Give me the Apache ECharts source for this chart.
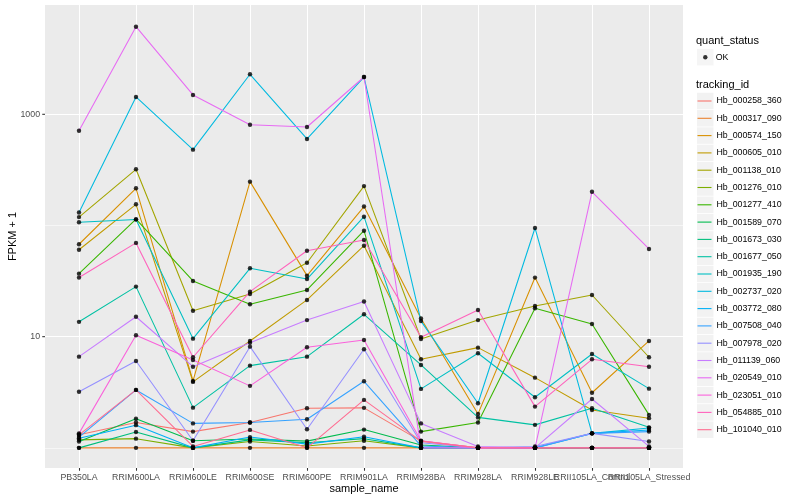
<!DOCTYPE html>
<html><head><meta charset="utf-8">
<script src="https://cdn.jsdelivr.net/npm/echarts@6/dist/echarts.min.js"></script>
<style>html,body{margin:0;padding:0;background:#fff}#c{width:800px;height:500px}</style>
</head><body><div id="c"></div>
<script>
const samples = ['PB350LA','RRIM600LA','RRIM600LE','RRIM600SE','RRIM600PE','RRIM901LA','RRIM928BA','RRIM928LA','RRIM928LE','RRII105LA_Control','RRII105LA_Stressed'];
const trackingIds = ['Hb_000258_360','Hb_000317_090','Hb_000574_150','Hb_000605_010','Hb_001138_010','Hb_001276_010','Hb_001277_410','Hb_001589_070','Hb_001673_030','Hb_001677_050','Hb_001935_190','Hb_002737_020','Hb_003772_080','Hb_007508_040','Hb_007978_020','Hb_011139_060','Hb_020549_010','Hb_023051_010','Hb_054885_010','Hb_101040_010'];
const lineColors = ['#F8766D','#EA8331','#D89000','#C09B00','#A3A500','#7CAE00','#39B600','#00BB4E','#00BF7D','#00C1A3','#00BFC4','#00BAE0','#00B0F6','#35A2FF','#9590FF','#C77CFF','#E76BF3','#FA62DB','#FF62BC','#FF6C91'];

// FPKM + 1 per sample
const Hb_000258_360 = [1.31, 1.69, 1.40, 1.69, 2.27, 2.29, 1.15, 1, 1, 1, 1];
const Hb_000317_090 = [1, 1, 1, 1, 1, 1, 1, 1, 1, 1, 1];
const Hb_000574_150 = [67.8, 216, 4.00, 248, 35.4, 148, 14.6, 2.02, 34.0, 3.13, 9.15];
const Hb_000605_010 = [60.5, 155, 3.92, 9.15, 21.4, 65.8, 6.26, 7.97, 4.28, 2.19, 1.85];
const Hb_001138_010 = [119, 320, 17.1, 24.2, 46.2, 226, 9.53, 14.1, 18.9, 23.7, 6.53];
const Hb_001276_010 = [1.18, 1.21, 1, 1.14, 1.04, 1.16, 1, 1, 1, 1, 1];
const Hb_001277_410 = [36.9, 114, 31.7, 19.6, 26.3, 89.8, 1.40, 1.69, 18.0, 13.0, 1.98];
const Hb_001589_070 = [1.14, 1.83, 1.16, 1.20, 1.15, 1.46, 1.06, 1, 1, 1, 1];
const Hb_001673_030 = [1, 1.39, 1, 1.18, 1.11, 1.21, 1, 1, 1, 1, 1];
const Hb_001677_050 = [13.6, 28.2, 2.30, 5.49, 6.61, 15.9, 5.57, 1.88, 1.61, 2.27, 1.53];
const Hb_001935_190 = [107, 113, 9.6, 41.2, 33.0, 120, 3.39, 7.10, 2.85, 6.99, 3.41];
const Hb_002737_020 = [131, 1432, 481, 2290, 600, 2164, 13.8, 2.52, 95, 1.35, 1.51];
const Hb_003772_080 = [1.22, 1.60, 1, 1.25, 1.08, 1.26, 1, 1, 1, 1.35, 1.45];
const Hb_007508_040 = [1.25, 3.32, 1.66, 1.69, 1.81, 3.97, 1.04, 1, 1, 1.35, 1.40];
const Hb_007978_020 = [3.20, 6.04, 1.16, 8.13, 1.47, 7.71, 1.11, 1, 1.03, 1.35, 1.14];
const Hb_011139_060 = [6.61, 15.1, 5.37, 8.8, 14.1, 20.7, 1.66, 1.03, 1, 2.75, 1.03];
const Hb_020549_010 = [712, 6138, 1493, 806, 769, 2164, 1, 1, 1, 201, 61.5];
const Hb_023051_010 = [1.35, 10.3, 6.17, 3.61, 8.03, 9.34, 1.16, 1, 1, 1, 1];
const Hb_054885_010 = [34.0, 69.7, 6.53, 25.4, 59.3, 74.1, 9.88, 17.4, 2.35, 6.26, 5.37];
const Hb_101040_010 = [1.31, 3.32, 1.03, 1.45, 1, 2.70, 1.15, 1, 1, 1, 1];

const majorBreaks = [10, 1000];
const minorBreaks = [1, 100];
const yMin = 0.659, yMax = 9616;

const seriesValues = [Hb_000258_360, Hb_000317_090, Hb_000574_150, Hb_000605_010, Hb_001138_010, Hb_001276_010, Hb_001277_410, Hb_001589_070, Hb_001673_030, Hb_001677_050, Hb_001935_190, Hb_002737_020, Hb_003772_080, Hb_007508_040, Hb_007978_020, Hb_011139_060, Hb_020549_010, Hb_023051_010, Hb_054885_010, Hb_101040_010];

const FONT = '"Liberation Sans", Arial, Helvetica, sans-serif';
const chart = echarts.init(document.getElementById('c'));

const series = [];
series.push({
  type: 'line', name: '__grid', xAxisIndex: 0, yAxisIndex: 0, data: [], silent: true,
  markLine: {
    silent: true, symbol: ['none', 'none'], label: { show: false }, z: 1, animation: false,
    emphasis: { disabled: true },
    data: minorBreaks.map(v => ({ yAxis: v, lineStyle: { color: '#fff', width: 0.55, type: 'solid' } }))
      .concat(majorBreaks.map(v => ({ yAxis: v, lineStyle: { color: '#fff', width: 1.1, type: 'solid' } })))
  }
});
trackingIds.forEach((id, i) => {
  series.push({
    type: 'line', name: id, xAxisIndex: 1, yAxisIndex: 1, data: seriesValues[i],
    color: lineColors[i], symbol: 'none', showSymbol: false,
    lineStyle: { width: 1.07, color: lineColors[i] }, z: 3, silent: true,
    emphasis: { disabled: true }
  });
});
const points = [];
seriesValues.forEach(vals => vals.forEach((v, j) => points.push([j, v])));
series.push({
  type: 'scatter', name: 'OK', xAxisIndex: 1, yAxisIndex: 1, data: points,
  symbol: 'circle', symbolSize: 4.4, color: '#000', itemStyle: { color: '#000' }, z: 4, silent: true,
  emphasis: { disabled: true }
});

const legendText = { fontSize: 8.8, lineHeight: 16.5, fontFamily: FONT };
chart.setOption({
  animation: false,
  grid: [
    { left: 45, top: 5, width: 638, height: 463, show: true, backgroundColor: '#EBEBEB', borderWidth: 0, containLabel: false, outerBoundsMode: 'none' },
    { left: 79, top: 5, width: 570, height: 463, show: false, containLabel: false, outerBoundsMode: 'none' }
  ],
  xAxis: [
    { gridIndex: 0, type: 'value', min: 0, max: 1, show: false },
    {
      gridIndex: 1, type: 'category', data: samples, boundaryGap: false,
      axisLine: { show: false },
      axisTick: { show: true, length: 2.75, lineStyle: { color: '#333', width: 1.07 } },
      axisLabel: { interval: 0, color: '#4D4D4D', fontSize: 8.8, fontFamily: FONT, margin: 5, hideOverlap: false },
      splitLine: { show: true, lineStyle: { color: '#fff', width: 1.07 } },
      name: 'sample_name', nameLocation: 'middle', nameGap: 15, nameMoveOverlap: false,
      nameTextStyle: { color: '#000', fontSize: 11, fontFamily: FONT }
    }
  ],
  yAxis: [
    {
      gridIndex: 0, type: 'log', logBase: 10, min: yMin, max: yMax,
      axisLine: { show: false }, axisTick: { show: false }, splitLine: { show: false },
      axisLabel: {
        margin: 0, color: '#4D4D4D', fontSize: 8.8, fontFamily: FONT,
        formatter: v => {
          const m = majorBreaks.find(b => Math.abs(b - v) / b < 1e-6);
          return m ? m + '{s|}{t|}' : '';
        },
        rich: { s: { width: 2.2 }, t: { width: 2.75, height: 1.07, backgroundColor: '#333' } }
      },
      name: 'FPKM + 1', nameLocation: 'middle', nameGap: 27, nameRotate: 90, nameMoveOverlap: false,
      nameTextStyle: { color: '#000', fontSize: 11, fontFamily: FONT }
    },
    { gridIndex: 1, type: 'log', logBase: 10, min: yMin, max: yMax, show: false }
  ],
  legend: [
    { id: 'keyBg', data: trackingIds, orient: 'vertical', left: 697, top: 92.75, padding: 0, itemGap: 0.8,
      itemWidth: 16.5, itemHeight: 16.5, icon: 'rect', itemStyle: { color: '#F2F2F2', borderWidth: 0 },
      selectedMode: false, z: 3, textStyle: Object.assign({ color: 'rgba(0,0,0,0)' }, legendText) },
    { id: 'keyLine', data: trackingIds, orient: 'vertical', left: 697.5, top: 92.75, padding: 0, itemGap: 0.8,
      itemWidth: 14, itemHeight: 1.1, icon: 'rect', itemStyle: { borderWidth: 0 },
      selectedMode: false, z: 5, textStyle: Object.assign({ color: '#000' }, legendText) },
    { id: 'okBg', data: ['OK'], orient: 'vertical', left: 697, top: 48.95, padding: 0,
      itemWidth: 16.5, itemHeight: 16.5, icon: 'rect', itemStyle: { color: '#F2F2F2', borderWidth: 0 },
      selectedMode: false, z: 3, textStyle: Object.assign({ color: 'rgba(0,0,0,0)' }, legendText) },
    { id: 'okDot', data: ['OK'], orient: 'vertical', left: 703.1, top: 48.95, padding: 0,
      itemWidth: 4.4, itemHeight: 4.4, icon: 'circle', itemStyle: { borderWidth: 0 },
      selectedMode: false, z: 5, textStyle: Object.assign({ color: '#000', padding: [0, 0, 0, 3.2] }, legendText) }
  ],
  graphic: [
    { type: 'text', x: 696, y: 40.7, style: { text: 'quant_status', fontSize: 11, fontFamily: FONT, fill: '#000', verticalAlign: 'middle' } },
    { type: 'text', x: 696, y: 84.5, style: { text: 'tracking_id', fontSize: 11, fontFamily: FONT, fill: '#000', verticalAlign: 'middle' } }
  ],
  series: series
});
</script></body></html>
